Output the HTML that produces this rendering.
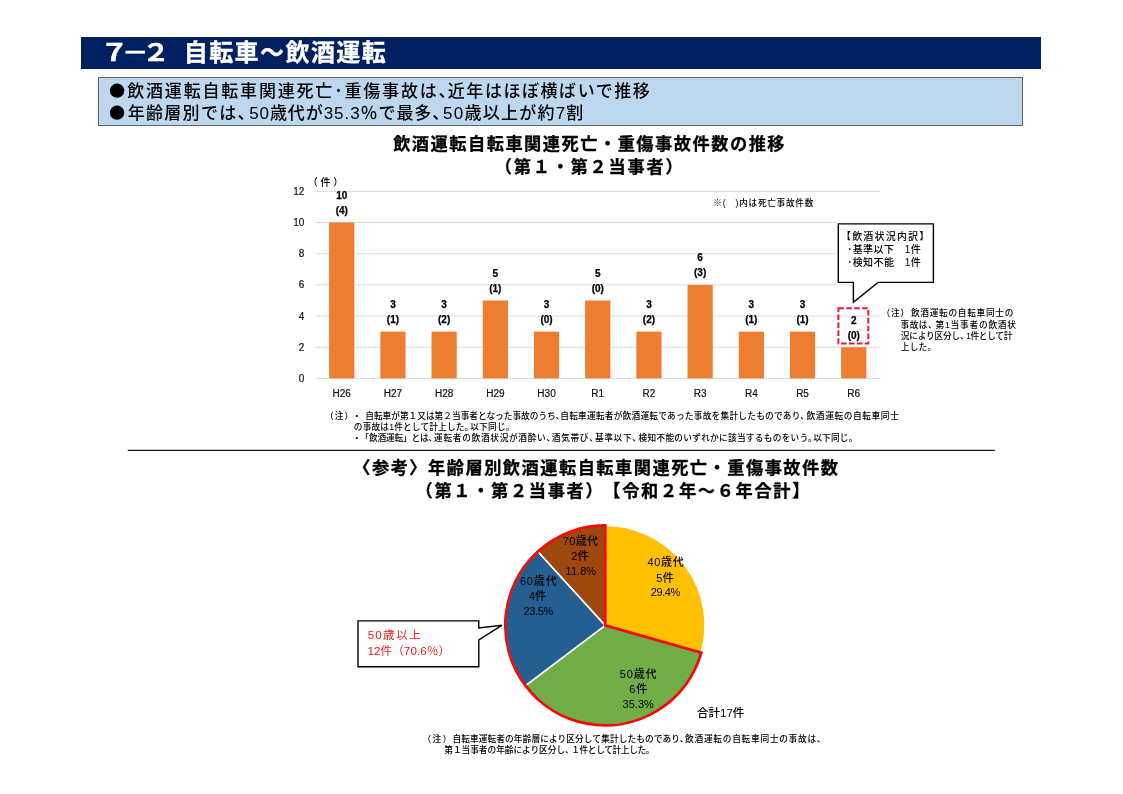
<!DOCTYPE html>
<html lang="ja">
<head>
<meta charset="utf-8">
<title>7-2 自転車～飲酒運転</title>
<style>
html,body{margin:0;padding:0;background:#fff}
body{width:1123px;height:794px;position:relative;overflow:hidden;font-family:"Liberation Sans","Noto Sans CJK JP",sans-serif;color:#000}
.a{position:absolute}
.t{position:absolute;white-space:nowrap;line-height:1.4}
.ln span{display:inline-block;position:relative;line-height:1.4;vertical-align:top}
#hdr{left:81px;top:37px;width:960px;height:32px;background:#002060}
#box{left:98px;top:77px;width:925px;height:48.5px;background:#bdd7ee;border:1px solid #5f6470;box-sizing:border-box}
svg text.ax{font-family:"Liberation Sans","Noto Sans CJK JP",sans-serif;font-size:10px;fill:#111;stroke:#111;stroke-width:0.2px}
svg text.dl{font-family:"Liberation Sans","Noto Sans CJK JP",sans-serif;font-size:10px;font-weight:700;fill:#000;stroke:#000;stroke-width:0.25px}
</style>
</head>
<body>
<div class="a" id="hdr"></div>
<div class="a" id="box"></div>
<svg class="a" style="left:0;top:0" width="1123" height="794" viewBox="0 0 1123 794">
<line x1="127.8" y1="450.4" x2="994.9" y2="450.4" stroke="#1a1a1a" stroke-width="1.2"/>
<line x1="315.6" y1="378.40" x2="880" y2="378.40" stroke="#d9d9d9" stroke-width="1"/>
<text x="304.4" y="381.95" text-anchor="end" class="ax">0</text>
<line x1="315.6" y1="347.22" x2="880" y2="347.22" stroke="#d9d9d9" stroke-width="1"/>
<text x="304.4" y="350.77" text-anchor="end" class="ax">2</text>
<line x1="315.6" y1="316.05" x2="880" y2="316.05" stroke="#d9d9d9" stroke-width="1"/>
<text x="304.4" y="319.60" text-anchor="end" class="ax">4</text>
<line x1="315.6" y1="284.88" x2="880" y2="284.88" stroke="#d9d9d9" stroke-width="1"/>
<text x="304.4" y="288.43" text-anchor="end" class="ax">6</text>
<line x1="315.6" y1="253.70" x2="880" y2="253.70" stroke="#d9d9d9" stroke-width="1"/>
<text x="304.4" y="257.25" text-anchor="end" class="ax">8</text>
<line x1="315.6" y1="222.52" x2="880" y2="222.52" stroke="#d9d9d9" stroke-width="1"/>
<text x="304.4" y="226.07" text-anchor="end" class="ax">10</text>
<line x1="315.6" y1="191.35" x2="880" y2="191.35" stroke="#d9d9d9" stroke-width="1"/>
<text x="304.4" y="194.90" text-anchor="end" class="ax">12</text>
<rect x="329.15" y="222.52" width="25.2" height="155.88" fill="#ed7d31"/>
<text x="341.75" y="397.3" text-anchor="middle" class="ax">H26</text>
<text x="341.75" y="199.02" text-anchor="middle" class="dl">10</text>
<text x="341.75" y="214.02" text-anchor="middle" class="dl">(4)</text>
<rect x="380.35" y="331.64" width="25.2" height="46.76" fill="#ed7d31"/>
<text x="392.95" y="397.3" text-anchor="middle" class="ax">H27</text>
<text x="392.95" y="308.14" text-anchor="middle" class="dl">3</text>
<text x="392.95" y="323.14" text-anchor="middle" class="dl">(1)</text>
<rect x="431.55" y="331.64" width="25.2" height="46.76" fill="#ed7d31"/>
<text x="444.15" y="397.3" text-anchor="middle" class="ax">H28</text>
<text x="444.15" y="308.14" text-anchor="middle" class="dl">3</text>
<text x="444.15" y="323.14" text-anchor="middle" class="dl">(2)</text>
<rect x="482.75" y="300.46" width="25.2" height="77.94" fill="#ed7d31"/>
<text x="495.35" y="397.3" text-anchor="middle" class="ax">H29</text>
<text x="495.35" y="276.96" text-anchor="middle" class="dl">5</text>
<text x="495.35" y="291.96" text-anchor="middle" class="dl">(1)</text>
<rect x="533.95" y="331.64" width="25.2" height="46.76" fill="#ed7d31"/>
<text x="546.55" y="397.3" text-anchor="middle" class="ax">H30</text>
<text x="546.55" y="308.14" text-anchor="middle" class="dl">3</text>
<text x="546.55" y="323.14" text-anchor="middle" class="dl">(0)</text>
<rect x="585.15" y="300.46" width="25.2" height="77.94" fill="#ed7d31"/>
<text x="597.75" y="397.3" text-anchor="middle" class="ax">R1</text>
<text x="597.75" y="276.96" text-anchor="middle" class="dl">5</text>
<text x="597.75" y="291.96" text-anchor="middle" class="dl">(0)</text>
<rect x="636.35" y="331.64" width="25.2" height="46.76" fill="#ed7d31"/>
<text x="648.95" y="397.3" text-anchor="middle" class="ax">R2</text>
<text x="648.95" y="308.14" text-anchor="middle" class="dl">3</text>
<text x="648.95" y="323.14" text-anchor="middle" class="dl">(2)</text>
<rect x="687.55" y="284.88" width="25.2" height="93.52" fill="#ed7d31"/>
<text x="700.15" y="397.3" text-anchor="middle" class="ax">R3</text>
<text x="700.15" y="261.38" text-anchor="middle" class="dl">6</text>
<text x="700.15" y="276.38" text-anchor="middle" class="dl">(3)</text>
<rect x="738.75" y="331.64" width="25.2" height="46.76" fill="#ed7d31"/>
<text x="751.35" y="397.3" text-anchor="middle" class="ax">R4</text>
<text x="751.35" y="308.14" text-anchor="middle" class="dl">3</text>
<text x="751.35" y="323.14" text-anchor="middle" class="dl">(1)</text>
<rect x="789.95" y="331.64" width="25.2" height="46.76" fill="#ed7d31"/>
<text x="802.55" y="397.3" text-anchor="middle" class="ax">R5</text>
<text x="802.55" y="308.14" text-anchor="middle" class="dl">3</text>
<text x="802.55" y="323.14" text-anchor="middle" class="dl">(1)</text>
<rect x="841.15" y="347.22" width="25.2" height="31.17" fill="#ed7d31"/>
<text x="853.75" y="397.3" text-anchor="middle" class="ax">R6</text>
<text x="853.75" y="323.72" text-anchor="middle" class="dl">2</text>
<text x="853.75" y="338.72" text-anchor="middle" class="dl">(0)</text>
<path d="M838.3 223.9 H933.4 V282.4 H878 L853.4 302.4 V282.4 H838.3 Z" fill="#fff" stroke="#fff" stroke-width="4"/>
<path d="M838.3 223.9 H933.4 V282.4 H878 L853.4 302.4 V282.4 H838.3 Z" fill="#fff" stroke="#000" stroke-width="1.4" stroke-linejoin="miter"/>
<rect x="838.4" y="308.2" width="29.9" height="35.3" fill="none" stroke="#e01b3c" stroke-width="2" stroke-dasharray="5.6 2.3"/>
<path d="M605.2 625.4 L605.20 525.50 A99.9 99.9 0 0 1 701.29 652.74 Z" fill="#ffc000" stroke="#fff" stroke-width="1.6" stroke-linejoin="round"/>
<path d="M605.2 625.4 L701.29 652.74 A99.9 99.9 0 0 1 525.48 685.60 Z" fill="#70ad47" stroke="#fff" stroke-width="1.6" stroke-linejoin="round"/>
<path d="M605.2 625.4 L525.48 685.60 A99.9 99.9 0 0 1 537.90 551.57 Z" fill="#255e91" stroke="#fff" stroke-width="1.6" stroke-linejoin="round"/>
<path d="M605.2 625.4 L537.90 551.57 A99.9 99.9 0 0 1 605.20 525.50 Z" fill="#9e480e" stroke="#fff" stroke-width="1.6" stroke-linejoin="round"/>
<path d="M605.2 625.4 L701.29 652.74 A99.9 99.9 0 1 1 605.20 525.50 Z" fill="none" stroke="#f00a0a" stroke-width="2.8" stroke-linejoin="miter"/>
<path d="M358 620.9 H478.8 V627.9 L501.8 625.3 L478.8 639.9 V666.8 H358 Z" fill="#fff" stroke="#000" stroke-width="1.4"/>
</svg>
<div class="t ln" style="left:0;top:36px;font-size:24px;font-weight:700;color:#fff;-webkit-text-stroke:0.3px;"><span id="h1a" style="left:100.25px;top:0.00px;letter-spacing:0.000px;transform-origin:0 50%;transform:scaleX(1.197)">７</span><span id="h1b" style="left:98.48px;top:0.00px;letter-spacing:0.000px;transform-origin:0 50%;transform:scaleX(1.112)">－</span><span id="h1c" style="left:94.27px;top:0.00px;letter-spacing:0.000px;transform-origin:0 50%;transform:scaleX(1.168)">２</span>　<span id="h2" style="left:87.69px;top:0.00px;letter-spacing:1.439px">自転車～飲酒運転</span></div>
<div class="t ln" style="left:0;top:80px;font-size:17px;font-weight:500;color:#000;"><span id="bu1" style="left:106.94px;top:-14.00px;font-size:33.4px;letter-spacing:0.000px;font-weight:400">●</span><span id="b1" style="left:107.06px;top:0.00px;letter-spacing:1.811px">飲酒運転自転車関連死亡･重傷事故は、</span><span id="b1x" style="left:97.50px;top:0.00px;letter-spacing:1.557px">近年はほぼ横ばいで推移</span></div>
<div class="t ln" style="left:0;top:102px;font-size:17px;font-weight:500;color:#000;"><span id="bu2" style="left:106.94px;top:-14.00px;font-size:33.4px;letter-spacing:0.000px;font-weight:400">●</span><span id="b2" style="left:107.48px;top:0.00px;letter-spacing:1.326px">年齢層別では、</span><span id="b2x" style="left:100.66px;top:0.00px;letter-spacing:0.934px">50歳代が35.3％で最多、</span><span id="b2y" style="left:93.53px;top:0.00px;letter-spacing:1.239px">50歳以上が約7割</span></div>
<div class="t" id="t1a" style="left:393.14px;top:132px;font-size:17.2px;letter-spacing:1.523px;font-weight:700;color:#000;-webkit-text-stroke:0.3px;">飲酒運転自転車関連死亡・重傷事故件数の推移</div>
<div class="t" id="t1b" style="left:494.75px;top:155px;font-size:17.2px;letter-spacing:1.781px;font-weight:700;color:#000;-webkit-text-stroke:0.3px;">（第１・第２当事者）</div>
<div class="t" id="ken" style="left:307.86px;top:176px;font-size:10px;letter-spacing:2.676px;font-weight:500;color:#000;">（件）</div>
<div class="t" id="kome" style="left:713.32px;top:197px;font-size:8.6px;letter-spacing:0.751px;font-weight:500;color:#000;">※(　)内は死亡事故件数</div>
<div class="t" id="c1" style="left:840.99px;top:230px;font-size:10px;letter-spacing:1.184px;font-weight:500;color:#000;">【飲酒状況内訳】</div>
<div class="t" id="c2" style="left:847.24px;top:243px;font-size:10px;letter-spacing:0.438px;font-weight:500;color:#000;">･基準以下　1件</div>
<div class="t" id="c3" style="left:847.24px;top:256px;font-size:10px;letter-spacing:0.438px;font-weight:500;color:#000;">･検知不能　1件</div>
<div class="t ln" style="left:0;top:307px;font-size:8.7px;font-weight:500;color:#000;"><span id="r1a" style="left:881.50px;top:0.00px;letter-spacing:0.797px">（注）</span>　<span id="r1b" style="left:873.75px;top:0.00px;letter-spacing:0.687px">飲酒運転の自転車同士の</span></div>
<div class="t ln" style="left:0;top:319px;font-size:8.7px;font-weight:500;color:#000;"><span id="r2" style="left:900.62px;top:0.00px;letter-spacing:0.411px">事故は、</span><span id="r2x" style="left:899.17px;top:0.00px;letter-spacing:0.765px">第1当事者の飲酒状</span></div>
<div class="t ln" style="left:0;top:330px;font-size:8.7px;font-weight:500;color:#000;"><span id="r3" style="left:900.80px;top:0.00px;letter-spacing:-0.214px">況により区分し、</span><span id="r3x" style="left:898.31px;top:0.00px;letter-spacing:-0.320px">1件として計</span></div>
<div class="t" id="r4" style="left:900.79px;top:341px;font-size:8.7px;letter-spacing:0.208px;font-weight:500;color:#000;">上した。</div>
<div class="t ln" style="left:0;top:410px;font-size:8.7px;font-weight:500;color:#000;"><span id="n1a" style="left:325.11px;top:0.00px;letter-spacing:1.069px">（注）</span>　<span id="n1b" style="left:314.61px;top:0.00px;letter-spacing:0.000px">・</span>　<span id="n1c" style="left:309.91px;top:0.00px;letter-spacing:-0.016px">自転車が第１又は第２当事者となった事故のうち、</span><span id="n1d" style="left:305.72px;top:0.00px;letter-spacing:0.220px">自転車運転者が飲酒運転であった事故を集計したものであり、</span><span id="n1e" style="left:303.16px;top:0.00px;letter-spacing:0.596px">飲酒運転の自転車同士</span></div>
<div class="t ln" style="left:0;top:421px;font-size:8.7px;font-weight:500;color:#000;"><span id="n2" style="left:353.86px;top:0.00px;letter-spacing:0.144px">の事故は1件として計上した。</span><span id="n2x" style="left:350.66px;top:0.00px;letter-spacing:0.225px">以下同じ。</span></div>
<div class="t ln" style="left:0;top:432px;font-size:8.7px;font-weight:500;color:#000;"><span id="n3a" style="left:352.58px;top:0.00px;letter-spacing:0.000px">・</span><span id="n3b" style="left:351.67px;top:0.00px;letter-spacing:-0.153px">「飲酒運転」とは、</span><span id="n3c" style="left:348.56px;top:0.00px;letter-spacing:0.681px">運転者の飲酒状況が酒酔い、</span><span id="n3d" style="left:344.53px;top:0.00px;letter-spacing:0.647px">酒気帯び、</span><span id="n3e" style="left:340.98px;top:0.00px;letter-spacing:0.639px">基準以下、</span><span id="n3f" style="left:337.95px;top:0.00px;letter-spacing:0.255px">検知不能のいずれかに該当するものをいう。</span><span id="n3g" style="left:334.20px;top:0.00px;letter-spacing:0.195px">以下同じ。</span></div>
<div class="t" id="t2a" style="left:353.24px;top:456px;font-size:17.2px;letter-spacing:1.512px;font-weight:700;color:#000;-webkit-text-stroke:0.3px;">〈参考〉年齢層別飲酒運転自転車関連死亡・重傷事故件数</div>
<div class="t ln" style="left:0;top:479px;font-size:17.2px;font-weight:700;color:#000;-webkit-text-stroke:0.3px;"><span id="t2b" style="left:415.55px;top:0.00px;letter-spacing:1.697px">（第１・第２当事者）</span><span id="t2c" style="left:414.47px;top:0.00px;letter-spacing:1.704px">【令和２年～６年合計】</span></div>
<div class="t" id="p70a" style="left:562.66px;top:534px;font-size:11px;letter-spacing:0.368px;font-weight:500;color:#000;">70歳代</div>
<div class="t" id="p70b" style="left:571.23px;top:549px;font-size:11px;letter-spacing:0.459px;font-weight:500;color:#000;">2件</div>
<div class="t" id="p70c" style="left:565.57px;top:564px;font-size:11px;letter-spacing:0.035px;font-weight:500;color:#000;">11.8%</div>
<div class="t" id="p60a" style="left:519.89px;top:574px;font-size:11px;letter-spacing:0.846px;font-weight:500;color:#000;">60歳代</div>
<div class="t" id="p60b" style="left:529.01px;top:589px;font-size:11px;letter-spacing:-0.066px;font-weight:500;color:#000;">4件</div>
<div class="t" id="p60c" style="left:523.42px;top:604px;font-size:11px;letter-spacing:-0.304px;font-weight:500;color:#000;">23.5%</div>
<div class="t" id="p40a" style="left:647.51px;top:555px;font-size:11px;letter-spacing:0.663px;font-weight:500;color:#000;">40歳代</div>
<div class="t" id="p40b" style="left:656.26px;top:571px;font-size:11px;letter-spacing:0.428px;font-weight:500;color:#000;">5件</div>
<div class="t" id="p40c" style="left:650.83px;top:585px;font-size:11px;letter-spacing:-0.420px;font-weight:500;color:#000;">29.4%</div>
<div class="t" id="p50a" style="left:619.80px;top:667px;font-size:11px;letter-spacing:0.803px;font-weight:500;color:#000;">50歳代</div>
<div class="t" id="p50b" style="left:629.15px;top:682px;font-size:11px;letter-spacing:1.012px;font-weight:500;color:#000;">6件</div>
<div class="t" id="p50c" style="left:622.57px;top:697px;font-size:11px;letter-spacing:0.010px;font-weight:500;color:#000;">35.3%</div>
<div class="t" id="tot" style="left:696.97px;top:705px;font-size:11.5px;letter-spacing:0.008px;font-weight:500;color:#000;">合計17件</div>
<div class="t" id="k1" style="left:367.64px;top:627px;font-size:11.6px;letter-spacing:1.292px;font-weight:400;color:#f01818;">50歳以上</div>
<div class="t" id="k2" style="left:367.39px;top:643px;font-size:11.6px;letter-spacing:0.101px;font-weight:400;color:#f01818;">12件（70.6％）</div>
<div class="t ln" style="left:0;top:733px;font-size:8.7px;font-weight:500;color:#000;"><span id="q1a" style="left:422.44px;top:0.00px;letter-spacing:1.426px">（注）</span>　<span id="q1b" style="left:413.41px;top:0.00px;letter-spacing:0.085px">自転車運転者の年齢層により区分して集計したものであり、</span><span id="q1c" style="left:410.09px;top:0.00px;letter-spacing:0.722px">飲酒運転の自転車同士の事故は、</span></div>
<div class="t ln" style="left:0;top:744px;font-size:8.7px;font-weight:500;color:#000;"><span id="q2" style="left:444.33px;top:0.00px;letter-spacing:-0.054px">第１当事者の年齢により区分し、</span><span id="q2x" style="left:441.83px;top:0.00px;letter-spacing:-0.364px">１件として計上した。</span></div>
</body>
</html>
